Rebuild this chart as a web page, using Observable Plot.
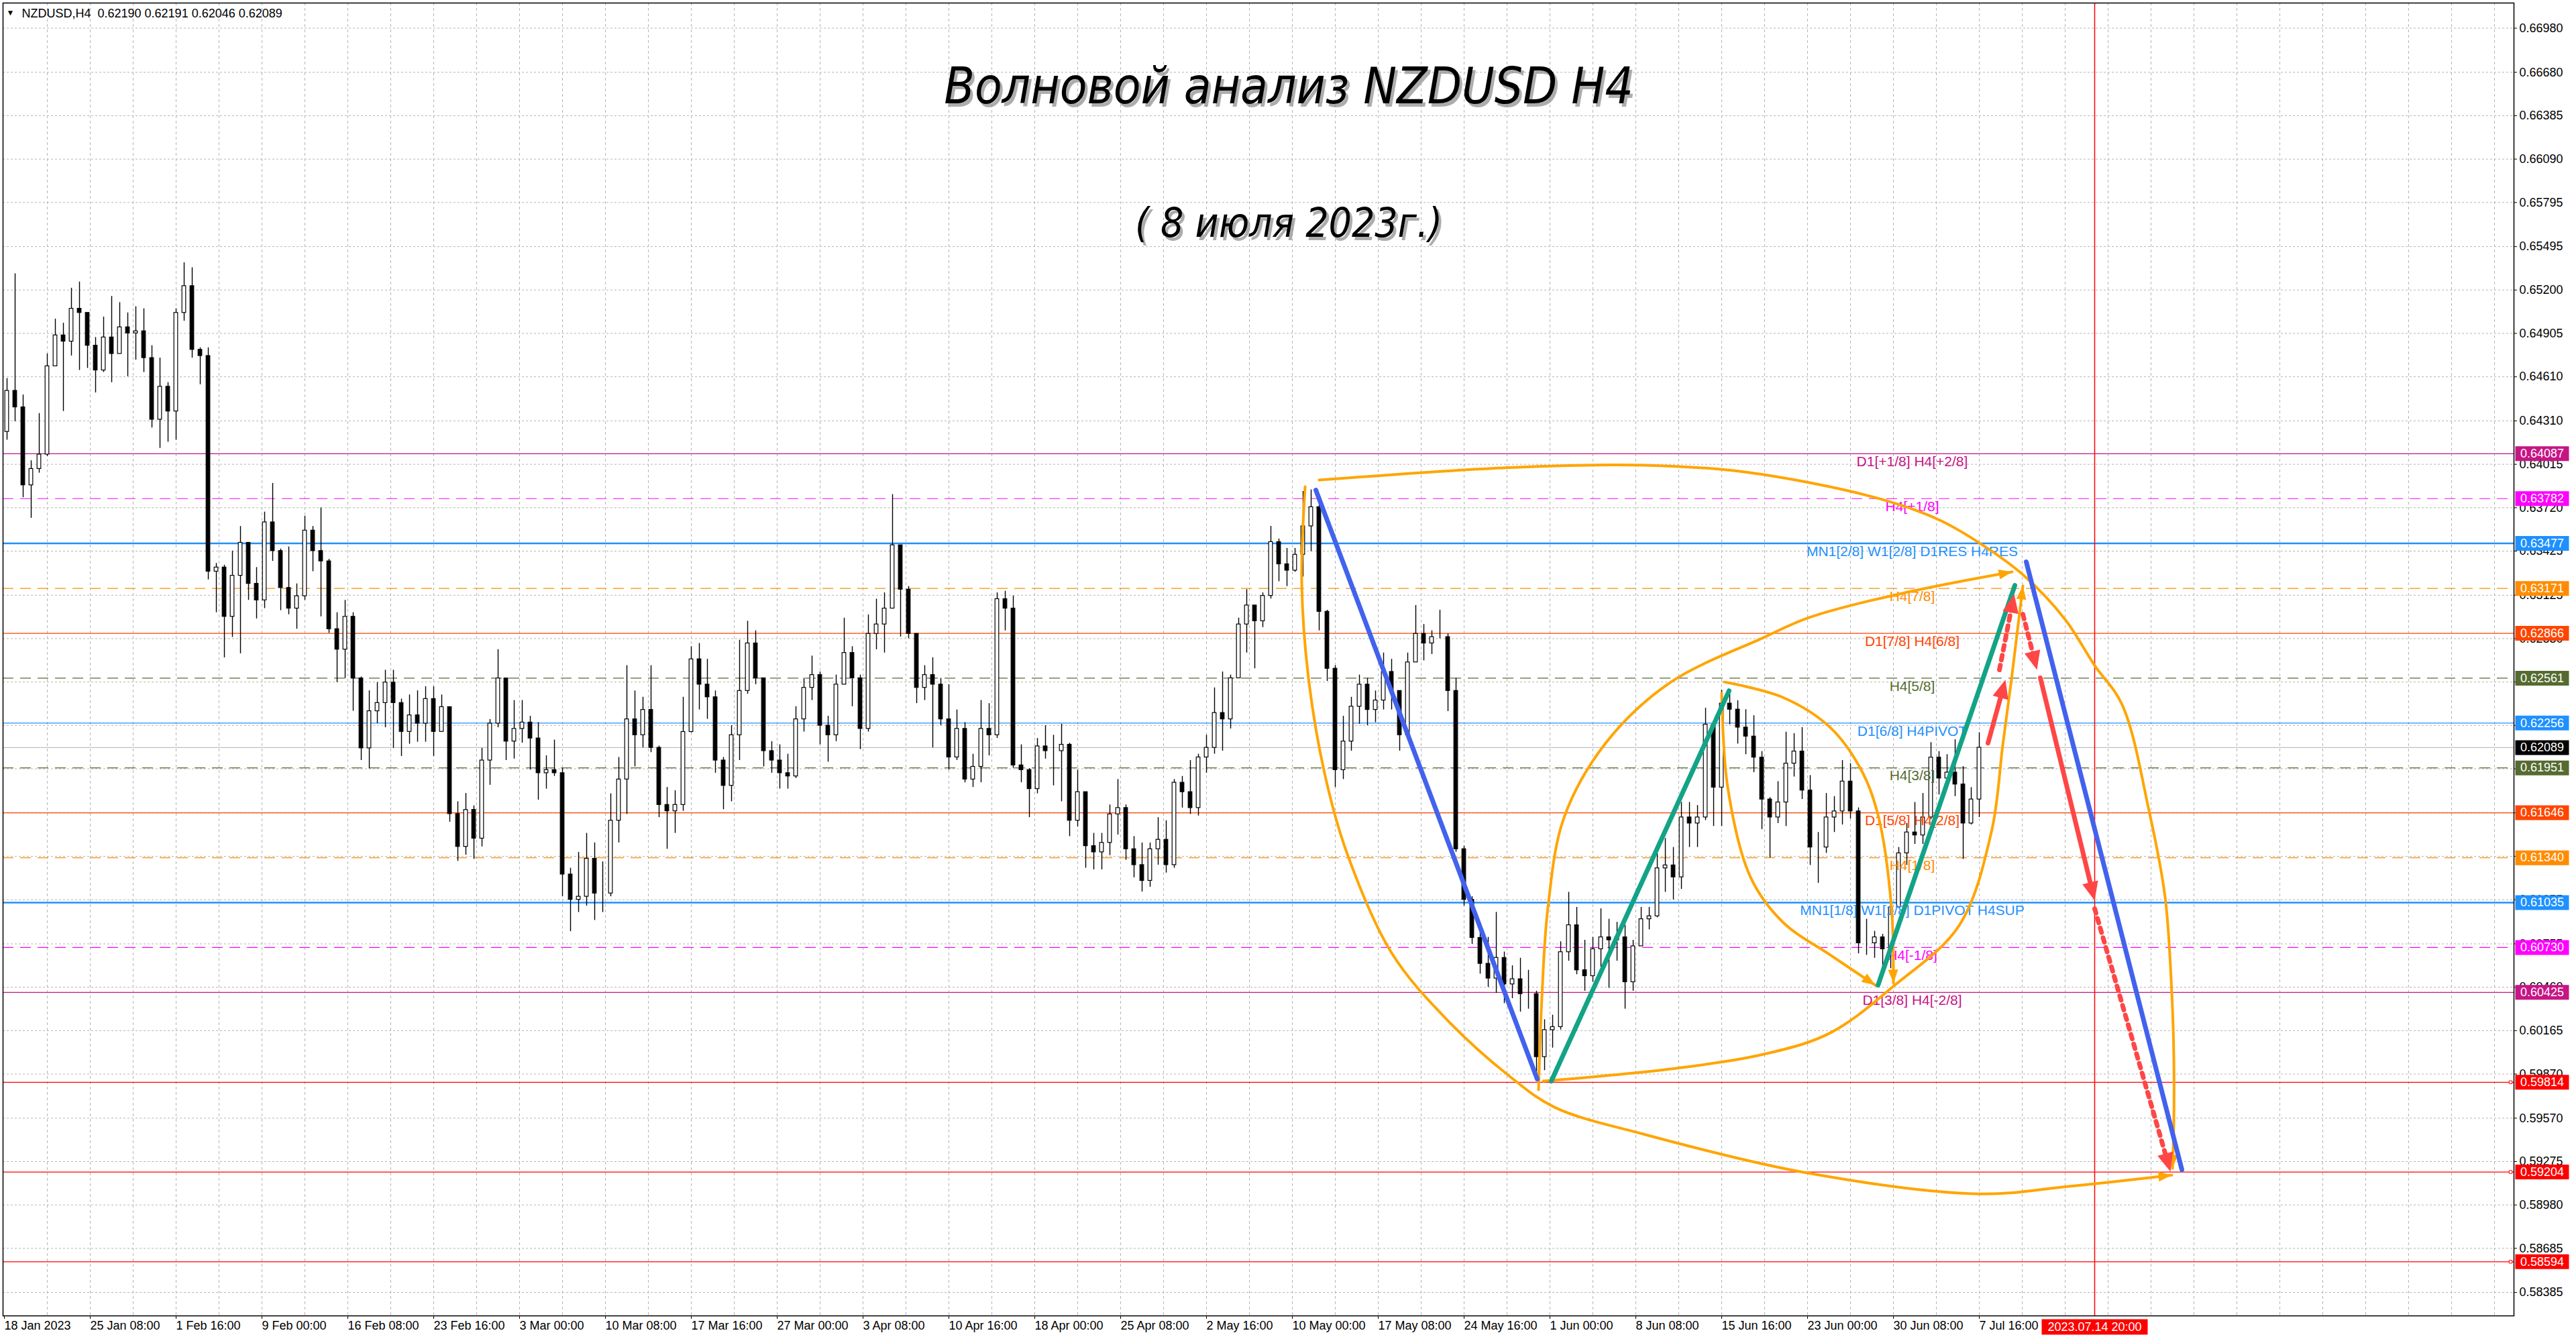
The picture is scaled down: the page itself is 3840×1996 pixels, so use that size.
<!DOCTYPE html>
<html>
<head>
<meta charset="utf-8">
<script src="https://cdn.jsdelivr.net/npm/d3@7"></script>
<script src="https://cdn.jsdelivr.net/npm/@observablehq/plot@0.6"></script>
<style>
  html, body { margin: 0; padding: 0; background: #fff; }
  #chart svg { display: block; }
</style>
</head>
<body>
<div id="chart"></div>
<script>
// ---- price data: NZDUSD, one candle per half day (3 x H4 bars) ----
const firstOpen = 0.64236;
const highs = [
  0.64599,0.65311,0.64487,0.64040,0.64361,0.64766,0.65003,0.64975,0.65213,0.65255,
  0.65017,0.64878,0.65017,0.65157,0.65115,0.65045,0.65087,0.65073,0.64822,0.64738,
  0.64571,0.65073,0.65386,0.65352,0.64808,0.64808,0.63342,0.63330,0.63426,0.63593,
  0.63482,0.63314,0.63691,0.63886,0.63440,0.63454,0.63203,0.63663,0.63593,0.63719,
  0.63370,0.63007,0.63091,0.63007,0.62570,0.62476,0.62532,0.62616,0.62616,0.62420,
  0.62448,0.62476,0.62504,0.62504,0.62448,0.62365,0.61722,0.61778,0.61694,0.62085,
  0.62281,0.62756,0.62560,0.62410,0.62410,0.62303,0.62260,0.62034,0.62141,0.61948,
  0.61270,0.61378,0.61507,0.61442,0.61313,0.61776,0.62023,0.62647,0.62475,0.62432,
  0.62647,0.62100,0.61819,0.61797,0.62432,0.62776,0.62798,0.62690,0.62475,0.62023,
  0.62239,0.62820,0.62949,0.62884,0.62561,0.62131,0.62109,0.62045,0.62368,0.62561,
  0.62712,0.62604,0.62303,0.62583,0.62970,0.62776,0.62583,0.62992,0.63099,0.63142,
  0.63810,0.63358,0.63185,0.62863,0.62647,0.62701,0.62561,0.62518,0.62346,0.62260,
  0.62045,0.62410,0.62389,0.63142,0.63153,0.63121,0.62109,0.61948,0.62152,0.62239,
  0.62174,0.62249,0.62120,0.61937,0.61787,0.61507,0.61507,0.61700,0.61873,0.61700,
  0.61485,0.61442,0.61442,0.61614,0.61593,0.61873,0.61894,0.62002,0.62045,0.62174,
  0.62496,0.62604,0.62583,0.62970,0.63164,0.63056,0.63142,0.63594,0.63508,0.63444,
  0.63444,0.63831,0.63842,0.63740,0.63024,0.62647,0.62303,0.62432,0.62583,0.62561,
  0.62475,0.62733,0.62690,0.62475,0.62733,0.63056,0.62927,0.62884,0.63024,0.62863,
  0.62561,0.61420,0.61076,0.60900,0.60800,0.60970,0.60700,0.60607,0.60658,0.60576,
  0.60434,0.60240,0.60271,0.60770,0.61106,0.61004,0.60780,0.60800,0.60994,0.60923,
  0.60902,0.60882,0.60780,0.61004,0.61004,0.61371,0.61472,0.61411,0.61717,0.61717,
  0.61696,0.62358,0.62260,0.62480,0.62470,0.62409,0.62348,0.62307,0.62063,0.61750,
  0.61859,0.62195,0.62185,0.62226,0.61900,0.61513,0.61778,0.61757,0.62002,0.61981,
  0.61680,0.60923,0.60841,0.60821,0.61065,0.61411,0.61574,0.61717,0.61778,0.62124,
  0.62063,0.62042,0.62144,0.61961,0.61818,0.62191
];
const lows = [
  0.64180,0.64305,0.63789,0.63649,0.63956,0.64068,0.64710,0.64375,0.64752,0.64654,
  0.64668,0.64501,0.64640,0.64571,0.64766,0.64612,0.64724,0.64640,0.64263,0.64124,
  0.64166,0.64180,0.64989,0.64738,0.64557,0.63230,0.63007,0.62700,0.62839,0.62728,
  0.63091,0.62965,0.63035,0.63356,0.63021,0.62993,0.62895,0.63091,0.63286,0.62979,
  0.62867,0.62532,0.62560,0.62337,0.62002,0.61946,0.62253,0.62225,0.62085,0.62030,
  0.62113,0.62127,0.62127,0.62030,0.62197,0.61583,0.61317,0.61359,0.61331,0.61415,
  0.61834,0.62225,0.62002,0.62012,0.62120,0.61937,0.61733,0.61808,0.61894,0.61076,
  0.60839,0.60969,0.61012,0.60915,0.60969,0.61076,0.61442,0.61636,0.61959,0.62088,
  0.62056,0.61614,0.61399,0.61507,0.61657,0.62190,0.62346,0.62282,0.61916,0.61668,
  0.61722,0.62002,0.62453,0.62518,0.61959,0.61916,0.61808,0.61808,0.61880,0.62196,
  0.62410,0.62109,0.61991,0.62131,0.62518,0.62368,0.62077,0.62196,0.62755,0.62733,
  0.63035,0.62841,0.62830,0.62389,0.62410,0.62088,0.62239,0.61937,0.62002,0.61851,
  0.61819,0.61851,0.62034,0.62152,0.62884,0.61948,0.61851,0.61614,0.61776,0.62012,
  0.61830,0.61722,0.61485,0.61550,0.61270,0.61259,0.61259,0.61356,0.61496,0.61324,
  0.61205,0.61108,0.61141,0.61291,0.61237,0.61270,0.61679,0.61636,0.61625,0.61916,
  0.62045,0.62066,0.62217,0.62561,0.62733,0.62626,0.62906,0.63100,0.63218,0.63185,
  0.63282,0.63250,0.63422,0.62884,0.62540,0.61819,0.61873,0.62066,0.62249,0.62239,
  0.62260,0.62346,0.62346,0.62066,0.62217,0.62690,0.62680,0.62723,0.62830,0.62335,
  0.61378,0.61012,0.60753,0.60550,0.60460,0.60420,0.60350,0.60383,0.60292,0.60312,
  0.59823,0.59894,0.60047,0.60170,0.60638,0.60546,0.60434,0.60495,0.60597,0.60454,
  0.60638,0.60312,0.60434,0.60739,0.60851,0.60933,0.61106,0.61055,0.61126,0.61411,
  0.61411,0.61594,0.61554,0.61554,0.62246,0.62114,0.62042,0.61920,0.61533,0.61340,
  0.61574,0.61554,0.61890,0.61737,0.61289,0.61167,0.61371,0.61513,0.61564,0.61605,
  0.60688,0.60678,0.60658,0.60597,0.60587,0.61004,0.61289,0.61432,0.61432,0.61600,
  0.61768,0.61808,0.61757,0.61330,0.61564,0.61615
];
const closes = [
  0.64515,0.64403,0.63873,0.63984,0.64082,0.64682,0.64892,0.64850,0.65073,0.65045,
  0.64822,0.64654,0.64878,0.64766,0.64947,0.64906,0.64920,0.64738,0.64319,0.64543,
  0.64375,0.65045,0.65227,0.64794,0.64752,0.63286,0.63314,0.62979,0.63258,0.63482,
  0.63203,0.63091,0.63621,0.63426,0.63175,0.63035,0.63119,0.63565,0.63426,0.63356,
  0.62895,0.62756,0.62979,0.62560,0.62085,0.62337,0.62393,0.62532,0.62393,0.62197,
  0.62309,0.62253,0.62420,0.62197,0.62365,0.61638,0.61415,0.61666,0.61471,0.62002,
  0.62253,0.62560,0.62131,0.62217,0.62260,0.62152,0.61916,0.61937,0.61916,0.61227,
  0.61055,0.61076,0.61334,0.61098,0.61098,0.61593,0.61873,0.62282,0.62174,0.62346,
  0.62088,0.61700,0.61657,0.61700,0.62196,0.62690,0.62518,0.62432,0.62002,0.61830,
  0.62174,0.62475,0.62798,0.62561,0.62066,0.62002,0.61916,0.61894,0.62282,0.62496,
  0.62583,0.62239,0.62174,0.62518,0.62733,0.62561,0.62217,0.62863,0.62927,0.63035,
  0.63465,0.63164,0.62863,0.62496,0.62583,0.62518,0.62282,0.62023,0.62217,0.61873,
  0.61959,0.62217,0.62174,0.63099,0.63035,0.61969,0.61937,0.61808,0.62098,0.62066,
  0.62066,0.62109,0.61593,0.61787,0.61420,0.61378,0.61442,0.61636,0.61679,0.61399,
  0.61291,0.61184,0.61399,0.61463,0.61291,0.61851,0.61787,0.61679,0.62023,0.62088,
  0.62325,0.62282,0.62561,0.62927,0.63056,0.62949,0.63121,0.63487,0.63336,0.63293,
  0.63401,0.63594,0.63724,0.63013,0.62626,0.61937,0.62131,0.62368,0.62518,0.62346,
  0.62410,0.62604,0.62475,0.62174,0.62669,0.62863,0.62798,0.62841,0.62841,0.62475,
  0.61399,0.61055,0.60796,0.60620,0.60520,0.60660,0.60480,0.60515,0.60414,0.60414,
  0.59986,0.60169,0.60190,0.60699,0.60882,0.60576,0.60536,0.60719,0.60800,0.60780,
  0.60800,0.60495,0.60739,0.60923,0.60943,0.61269,0.61289,0.61208,0.61615,0.61574,
  0.61615,0.62246,0.61818,0.62389,0.62348,0.62226,0.62165,0.62022,0.61737,0.61615,
  0.61717,0.61981,0.62063,0.61798,0.61411,0.61411,0.61615,0.61656,0.61859,0.61656,
  0.60760,0.60760,0.60800,0.60719,0.61004,0.61371,0.61513,0.61493,0.61615,0.62022,
  0.61880,0.61920,0.61839,0.61574,0.61737,0.62089
];

// ---- horizontal levels (Murrey lines) ----
const levelPrices = [0.64087,0.63782,0.63477,0.63171,0.62866,0.62561,0.62256,0.61951,0.61646,0.61340,0.61035,0.60730,0.60425,0.59814,0.59204,0.58594];
const levelNames = ["D1[+1/8] H4[+2/8]","H4[+1/8]","MN1[2/8] W1[2/8] D1RES H4RES","H4[7/8]","D1[7/8] H4[6/8]","H4[5/8]","D1[6/8] H4PIVOT","H4[3/8]","D1[5/8] H4[2/8]","H4[1/8]","MN1[1/8] W1[1/8] D1PIVOT H4SUP","H4[-1/8]","D1[3/8] H4[-2/8]","","",""];
const levelColors = ["#C71585","#FF00FF","#1E90FF","#FF8C00","#FF4500","#556B2F","#1E90FF","#556B2F","#FF4500","#FF8C00","#1E90FF","#FF00FF","#C71585","#FF0000","#FF0000","#FF0000"];
const levelDashed = [false,true,false,true,false,true,false,true,false,true,false,true,false,false,false,false];
const levelWidths = [1.2,1.2,2.5,1.2,1.2,1.2,1.2,1.2,1.2,1.2,2.5,1.2,1.2,1.2,1.2,1.2];
const lastPrice = 0.62089;

// ---- axes ----
const yTicks = [0.66980,0.66680,0.66385,0.66090,0.65795,0.65495,0.65200,0.64905,0.64610,0.64310,0.64015,0.63720,0.63425,0.63125,0.62830,0.62535,0.62240,0.61945,0.61645,0.61350,0.61055,0.60755,0.60460,0.60165,0.59870,0.59570,0.59275,0.58980,0.58685,0.58385];
const dateLabels = ["18 Jan 2023","25 Jan 08:00","1 Feb 16:00","9 Feb 00:00","16 Feb 08:00","23 Feb 16:00","3 Mar 00:00","10 Mar 08:00","17 Mar 16:00","27 Mar 00:00","3 Apr 08:00","10 Apr 16:00","18 Apr 00:00","25 Apr 08:00","2 May 16:00","10 May 00:00","17 May 08:00","24 May 16:00","1 Jun 00:00","8 Jun 08:00","15 Jun 16:00","23 Jun 00:00","30 Jun 08:00","7 Jul 16:00"];
const dateBars = dateLabels.map((_, i) => i * 32);
const futureBar = 779;           // 2023.07.14 20:00
const futureLabel = "2023.07.14 20:00";
const labelBar = 711;            // where the level names sit

// ---- hand drawn objects: [bar, price] ----
const blueWave1 = [[488.75,0.63840],[571.25,0.59836]];
const blueWave2 = [[753.5,0.63352],[811.5,0.59220]];
const greenWave1 = [[576.5,0.59822],[642.75,0.62476]];
const greenWave2 = [[698.25,0.60474],[749.25,0.63192]];
const redSolid = [
  [[739.25,0.62120],[745.75,0.62551]],
  [[758.75,0.62563],[779,0.61049]]
];
const redDotted = [
  [[743.5,0.62618],[749,0.63133]],
  [[752.25,0.62996],[757.5,0.62618]],
  [[779,0.60994],[807.25,0.59206]]
];
const arcA = [[490,0.63908],[561,0.63993],[610.75,0.64009],[648.5,0.63963],[696.25,0.63794],[720.25,0.63644],[735.75,0.63484],[752.5,0.63261],[768,0.62960],[778.75,0.62654],[789.25,0.62380],[799.25,0.61660],[805.25,0.61072],[807.75,0.60415],[808.5,0.59982],[808.5,0.59544],[808,0.59229]];
const arcB = [[484.75,0.63863],[483.5,0.63206],[486,0.62563],[492,0.61915],[500.25,0.61377],[517,0.60693],[537.25,0.60246],[561,0.59854],[577.75,0.59644],[610.75,0.59462],[672,0.59197],[736,0.59055],[769.25,0.59106],[807.75,0.59183]];
const arcC = [[573.5,0.59822],[620.75,0.59904],[656.75,0.60009],[680.5,0.60150],[704.5,0.60474],[728.5,0.60880],[740.5,0.61514],[744.75,0.62107],[748,0.62554],[750.5,0.62928],[752.25,0.63188]];
const arcD = [[571.75,0.59763],[573,0.60392],[575.25,0.61003],[581.25,0.61614],[597,0.62125],[620.75,0.62531],[655.5,0.62836],[672.5,0.62973],[708.25,0.63142],[748.25,0.63284]];
const arcE = [[641,0.62535],[662.75,0.62431],[680.5,0.62225],[692.5,0.61920],[698.5,0.61614],[703.25,0.61003],[704,0.60488]];
const arcF = [[640,0.62458],[642.25,0.61819],[650.75,0.61208],[662.75,0.60903],[680.5,0.60679],[697.25,0.60474]];

// ---- build ----
const candles = highs.map((h, k) => ({
  bar: 3 * k + 1, high: h, low: lows[k], close: closes[k], open: k ? closes[k - 1] : firstOpen
}));
const levels = levelPrices.map((price, i) => ({
  price, name: levelNames[i], color: levelColors[i], dashed: levelDashed[i], width: levelWidths[i]
}));
const tags = [...levels, {price: lastPrice, color: "#000000"}];
const dateMap = new Map(dateBars.map((b, i) => [b, dateLabels[i]]));

const BLUE = "#4262EE", GREEN = "#13A386", RED = "#FF4646", ORANGE = "#FFA500";
const FONT = "'Liberation Sans', Arial, sans-serif";
const TITLE_FONT = "'Liberation Sans Narrow', 'DejaVu Sans Condensed', 'Open Sans', sans-serif";

const base = {
  width: 3840, height: 1996,
  marginLeft: 4, marginRight: 93, marginTop: 4, marginBottom: 35,
  x: {domain: [-0.5, 935.25], axis: null},
  y: {domain: [0.58226, 0.67151], axis: null},
  color: {type: "identity"},
  style: {background: "white", fontFamily: FONT, overflow: "visible"}
};

// first pass only to get the scales (for arrow angles)
const probe = Plot.plot({...base, marks: [Plot.frame()]});
const X = probe.scale("x"), Y = probe.scale("y");

function angleOf(from, tip) {
  const dx = X.apply(tip[0]) - X.apply(from[0]);
  const dy = Y.apply(tip[1]) - Y.apply(from[1]);
  return Math.atan2(dx, -dy) * 180 / Math.PI;
}
function pullBack(from, tip, px) {
  const x0 = X.apply(from[0]), y0 = Y.apply(from[1]);
  const x1 = X.apply(tip[0]), y1 = Y.apply(tip[1]);
  const len = Math.hypot(x1 - x0, y1 - y0);
  const t = (len - px) / len;
  return [X.invert(x0 + (x1 - x0) * t), Y.invert(y0 + (y1 - y0) * t)];
}

// triangle arrow head, tip at the vector end
const head = (w) => ({
  draw(ctx, l) {
    ctx.moveTo(0, -l);
    ctx.lineTo(w / 2, 0);
    ctx.lineTo(-w / 2, 0);
    ctx.closePath();
  }
});
// rectangular price tag
const box = (w, h) => ({
  draw(ctx) {
    ctx.moveTo(-w / 2, -h / 2);
    ctx.lineTo(w / 2, -h / 2);
    ctx.lineTo(w / 2, h / 2);
    ctx.lineTo(-w / 2, h / 2);
    ctx.closePath();
  }
});

const arcs = [arcA, arcB, arcC, arcD, arcE, arcF];
const arcRows = arcs.flatMap((pts, j) => pts.map(p => ({bar: p[0], price: p[1], arc: j})));
const orangeHeads = arcs.map(pts => ({
  bar: pts[pts.length - 1][0], price: pts[pts.length - 1][1],
  rot: angleOf(pts[pts.length - 2], pts[pts.length - 1])
}));

const redAll = [...redSolid.map(s => ({s, dotted: false})), ...redDotted.map(s => ({s, dotted: true}))];
const redHeads = redAll.map(({s}) => ({bar: s[1][0], price: s[1][1], rot: angleOf(s[0], s[1])}));
const redRows = (dotted) => redAll.filter(r => r.dotted === dotted)
  .flatMap((r, j) => [r.s[0], pullBack(r.s[0], r.s[1], 20)].map(p => ({bar: p[0], price: p[1], seg: j})));

const straight = (pts, color) => Plot.line(pts, {
  x: d => d[0], y: d => d[1], stroke: color, strokeWidth: 7, strokeLinecap: "round"
});

const chart = Plot.plot({
  ...base,
  marks: [
    // grid
    Plot.gridY(yTicks, {stroke: "#b4b4b4", strokeOpacity: 1, strokeDasharray: "3,3"}),
    Plot.gridX(d3.range(16, 929, 16), {stroke: "#b4b4b4", strokeOpacity: 1, strokeDasharray: "4,4"}),

    // levels
    Plot.ruleY(levels.filter(d => !d.dashed), {y: "price", stroke: "color", strokeWidth: "width"}),
    Plot.ruleY(levels.filter(d => d.dashed), {y: "price", stroke: "color", strokeWidth: "width", strokeDasharray: "16,10"}),
    Plot.ruleY([lastPrice], {stroke: "#c0c0c0", strokeWidth: 1.2}),
    Plot.dot(levels.filter(d => d.color === "#FF0000"), {y: "price", frameAnchor: "right", dx: -5, symbol: "square", r: 2.5, stroke: "#FF0000", fill: "white", strokeWidth: 1}),

    // candles
    Plot.ruleX(candles, {x: "bar", y1: "low", y2: "high", stroke: "black", strokeWidth: 1.4}),
    Plot.rect(candles, {
      x1: d => d.bar - 0.7, x2: d => d.bar + 0.7, y1: "open", y2: "close",
      fill: d => d.close >= d.open ? "white" : "black", stroke: "black", strokeWidth: 1.2
    }),

    // future time marker
    Plot.ruleX([futureBar], {stroke: "#FF0000", strokeWidth: 1.5}),

    // level names
    Plot.text(levels.filter(d => d.name), {
      x: () => labelBar, y: "price", text: "name", fill: "color", dy: 12,
      fontSize: 21, fontFamily: FONT, textAnchor: "middle", lineAnchor: "middle"
    }),

    // wave drawings
    Plot.line(arcRows, {x: "bar", y: "price", z: "arc", curve: "catmull-rom", stroke: ORANGE, strokeWidth: 4}),
    Plot.vector(orangeHeads, {x: "bar", y: "price", rotate: "rot", length: 20, anchor: "end", shape: head(15), fill: ORANGE, stroke: "none"}),
    straight(blueWave1, BLUE),
    straight(greenWave1, GREEN),
    straight(greenWave2, GREEN),
    straight(blueWave2, BLUE),
    Plot.line(redRows(false), {x: "bar", y: "price", z: "seg", stroke: RED, strokeWidth: 7, strokeLinecap: "round"}),
    Plot.line(redRows(true), {x: "bar", y: "price", z: "seg", stroke: RED, strokeWidth: 7, strokeDasharray: "7,8"}),
    Plot.vector(redHeads, {x: "bar", y: "price", rotate: "rot", length: 28, anchor: "end", shape: head(24), fill: RED, stroke: "none"}),

    // title
    Plot.text(["Волновой анализ NZDUSD H4"], {
      frameAnchor: "top", dx: 49, dy: 131, text: d => d, fill: "#8a8a8a", fillOpacity: 0.7,
      fontSize: 74, fontStyle: "italic", fontFamily: TITLE_FONT, lineAnchor: "middle"
    }),
    Plot.text(["Волновой анализ NZDUSD H4"], {
      frameAnchor: "top", dx: 45, dy: 126, text: d => d, fill: "black",
      fontSize: 74, fontStyle: "italic", fontFamily: TITLE_FONT, lineAnchor: "middle"
    }),
    Plot.text(["( 8 июля 2023г.)"], {
      frameAnchor: "top", dx: 49, dy: 334, text: d => d, fill: "#8a8a8a", fillOpacity: 0.7,
      fontSize: 60, fontStyle: "italic", fontFamily: TITLE_FONT, lineAnchor: "middle"
    }),
    Plot.text(["( 8 июля 2023г.)"], {
      frameAnchor: "top", dx: 45, dy: 329, text: d => d, fill: "black",
      fontSize: 60, fontStyle: "italic", fontFamily: TITLE_FONT, lineAnchor: "middle"
    }),

    // header
    Plot.text(["▼"], {frameAnchor: "top-left", dx: 11, dy: 15, text: d => d, fontSize: 12, textAnchor: "middle", lineAnchor: "middle"}),
    Plot.text(["NZDUSD,H4  0.62190 0.62191 0.62046 0.62089"], {
      frameAnchor: "top-left", dx: 28, dy: 16, text: d => d, fontSize: 18, fontFamily: FONT, textAnchor: "start", lineAnchor: "middle", fill: "black"
    }),

    // axes
    Plot.axisY(yTicks, {anchor: "right", tickSize: 4, tickPadding: 4, tickFormat: d => d.toFixed(5), fontSize: 18, fontFamily: FONT, fill: "black", label: null}),
    Plot.axisX(dateBars, {anchor: "bottom", tickSize: 5, tickPadding: 3, tickFormat: d => dateMap.get(d), textAnchor: "start", fontSize: 18, fontFamily: FONT, fill: "black", label: null}),
    Plot.frame({stroke: "black", strokeWidth: 1.5}),

    // price tags on the right (drawn over the tick labels, as in the terminal)
    Plot.dot(tags, {y: "price", frameAnchor: "right", dx: 42, symbol: box(80, 22), fill: "color", stroke: "none"}),
    Plot.text(tags, {y: "price", frameAnchor: "right", dx: 42, text: d => d.price.toFixed(5), fill: "white", fontSize: 18, fontFamily: FONT, textAnchor: "middle", lineAnchor: "middle"}),

    // future time tag
    Plot.dot([futureBar], {x: d => d, frameAnchor: "bottom", dy: 16.5, symbol: box(158, 23), fill: "#FF0000", stroke: "none"}),
    Plot.text([futureLabel], {x: () => futureBar, frameAnchor: "bottom", dy: 16.5, text: d => d, fill: "white", fontSize: 18, fontFamily: FONT, textAnchor: "middle", lineAnchor: "middle"})
  ]
});

document.querySelector("#chart").append(chart);
</script>
</body>
</html>
